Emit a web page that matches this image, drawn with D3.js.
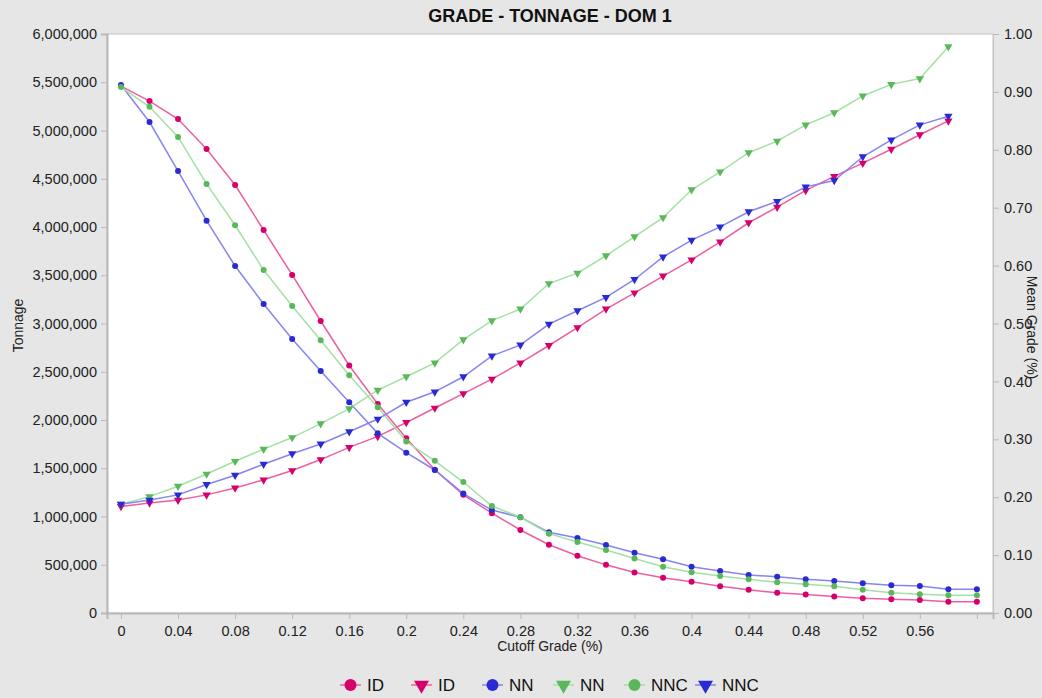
<!DOCTYPE html>
<html>
<head>
<meta charset="utf-8">
<script src="https://cdn.jsdelivr.net/npm/d3@7"></script>
<style>
  html, body { margin: 0; padding: 0; background: #e6e6e6; }
  svg { display: block; }
  text { font-family: Arial, "Liberation Sans", sans-serif; }
</style>
</head>
<body>
<svg id="chart" width="1042" height="698"></svg>
<script>
// ---- Data ----
const cutoffTonnage = [0,0.02,0.04,0.06,0.08,0.10,0.12,0.14,0.16,0.18,0.20,0.22,0.24,0.26,0.28,0.30,0.32,0.34,0.36,0.38,0.40,0.42,0.44,0.46,0.48,0.50,0.52,0.54,0.56,0.58,0.60];
const cutoffGrade = [0,0.02,0.04,0.06,0.08,0.10,0.12,0.14,0.16,0.18,0.20,0.22,0.24,0.26,0.28,0.30,0.32,0.34,0.36,0.38,0.40,0.42,0.44,0.46,0.48,0.50,0.52,0.54,0.56,0.58];

const tonnageID  = [5460000,5305000,5119000,4808000,4435000,3969000,3503000,3026000,2565000,2166000,1811000,1485000,1225000,1034000,860000,707000,593000,499000,420000,365000,323000,278000,240000,209000,191000,170000,153000,143000,135000,117000,117000];
const tonnageNN  = [5471000,5088000,4580000,4065000,3596000,3202000,2839000,2509000,2183000,1862000,1661000,1482000,1238000,1067000,992000,836000,777000,705000,624000,556000,480000,435000,394000,376000,349000,332000,308000,287000,280000,246000,246000];
const tonnageNNC = [5450000,5246000,4933000,4446000,4018000,3554000,3181000,2826000,2463000,2132000,1777000,1577000,1357000,1109000,992000,822000,736000,652000,565000,480000,422000,383000,349000,318000,297000,277000,241000,210000,194000,183000,183000];

const gradeID  = [0.184,0.190,0.195,0.204,0.216,0.230,0.246,0.265,0.286,0.305,0.329,0.354,0.379,0.404,0.432,0.462,0.493,0.525,0.553,0.582,0.610,0.641,0.674,0.701,0.730,0.754,0.777,0.801,0.826,0.850];
const gradeNN  = [0.188,0.201,0.219,0.240,0.262,0.283,0.303,0.327,0.353,0.385,0.408,0.432,0.472,0.505,0.525,0.569,0.587,0.617,0.650,0.683,0.731,0.762,0.795,0.815,0.843,0.864,0.893,0.913,0.923,0.978];
const gradeNNC = [0.188,0.195,0.204,0.222,0.238,0.257,0.275,0.292,0.313,0.335,0.364,0.382,0.408,0.444,0.463,0.499,0.522,0.545,0.576,0.615,0.644,0.667,0.693,0.711,0.736,0.747,0.788,0.817,0.843,0.858];

const xTicks = [0,0.04,0.08,0.12,0.16,0.20,0.24,0.28,0.32,0.36,0.40,0.44,0.48,0.52,0.56,0.60];
const xTickLabels = ["0","0.04","0.08","0.12","0.16","0.2","0.24","0.28","0.32","0.36","0.4","0.44","0.48","0.52","0.56",""];
const yLeftTicks = [0,500000,1000000,1500000,2000000,2500000,3000000,3500000,4000000,4500000,5000000,5500000,6000000];
const yRightTicks = [0,0.1,0.2,0.3,0.4,0.5,0.6,0.7,0.8,0.9,1.0];

const title = "GRADE - TONNAGE - DOM 1";
const xTitle = "Cutoff Grade (%)";
const yLeftTitle = "Tonnage";
const yRightTitle = "Mean Grade (%)";

const colors = {
  pink:  {marker: "#d5006c", line: "#ee5fa0"},
  blue:  {marker: "#2a2ad2", line: "#8585f2"},
  green: {marker: "#5ab85a", line: "#a2e2a2"}
};

const series = [
  {name: "ID",  xs: cutoffTonnage, ys: tonnageID,  axis: "left",  shape: "circle",   color: colors.pink},
  {name: "ID",  xs: cutoffGrade,   ys: gradeID,    axis: "right", shape: "triangle", color: colors.pink},
  {name: "NN",  xs: cutoffTonnage, ys: tonnageNN,  axis: "left",  shape: "circle",   color: colors.blue},
  {name: "NN",  xs: cutoffGrade,   ys: gradeNN,    axis: "right", shape: "triangle", color: colors.green},
  {name: "NNC", xs: cutoffTonnage, ys: tonnageNNC, axis: "left",  shape: "circle",   color: colors.green},
  {name: "NNC", xs: cutoffGrade,   ys: gradeNNC,   axis: "right", shape: "triangle", color: colors.blue}
];

// ---- Layout ----
const plot = {left: 107, right: 993, top: 34, bottom: 613};
const svg = d3.select("#chart");

const x = d3.scaleLinear().domain([-0.0098, 0.6113]).range([plot.left, plot.right]);
const yL = d3.scaleLinear().domain([0, 6000000]).range([plot.bottom, plot.top]);
const yR = d3.scaleLinear().domain([0, 1]).range([plot.bottom, plot.top]);

svg.append("rect").attr("x", 0).attr("y", 0).attr("width", 1042).attr("height", 698).attr("fill", "#e6e6e6");
svg.append("rect")
  .attr("x", plot.left).attr("y", plot.top)
  .attr("width", plot.right - plot.left).attr("height", plot.bottom - plot.top)
  .attr("fill", "#ffffff").attr("stroke", "#c4c4c4").attr("stroke-width", 1);

// Title
svg.append("text").attr("x", (plot.left + plot.right) / 2).attr("y", 22)
  .attr("text-anchor", "middle")
  .style("font-family", "'Liberation Sans Narrow', 'Arial Narrow', Arial, sans-serif")
  .style("font-weight", "bold").style("font-size", "18px").attr("fill", "#111")
  .text(title);

// Axes
const fmt = d3.format(",");
const leftAxis = d3.axisLeft(yL).tickValues(yLeftTicks).tickFormat(fmt).tickSize(6).tickPadding(4);
const rightAxis = d3.axisRight(yR).tickValues(yRightTicks).tickFormat(d3.format(".2f")).tickSize(6).tickPadding(5);
const bottomAxis = d3.axisBottom(x).tickValues(xTicks).tickFormat((d, i) => xTickLabels[i]).tickSize(6).tickPadding(5);

function styleAxis(g) {
  g.select(".domain").attr("stroke", "#b8b8b8").attr("stroke-width", 2);
  g.selectAll(".tick line").attr("stroke", "#b8b8b8");
  g.selectAll(".tick text").attr("fill", "#222").style("font-size", "14.5px")
    .style("font-family", "Arial, 'Liberation Sans', sans-serif");
}

svg.append("g").attr("transform", `translate(${plot.left},0)`).call(leftAxis).call(styleAxis);
svg.append("g").attr("transform", `translate(${plot.right},0)`).call(rightAxis).call(styleAxis)
  .call(g => g.select(".domain").attr("stroke-width", 1).attr("stroke", "#c4c4c4"));
const bx = svg.append("g").attr("transform", `translate(0,${plot.bottom})`).call(bottomAxis).call(styleAxis);
bx.selectAll(".tick text").attr("dy", "0.85em");

// Axis titles
svg.append("text").attr("transform", `translate(23,${(plot.top + plot.bottom) / 2 + 2}) rotate(-90)`)
  .attr("text-anchor", "middle").style("font-size", "14px").attr("fill", "#222").text(yLeftTitle);
svg.append("text").attr("transform", `translate(1027,${(plot.top + plot.bottom) / 2 + 4}) rotate(90)`)
  .attr("text-anchor", "middle").style("font-size", "14px").attr("fill", "#222").text(yRightTitle);
svg.append("text").attr("x", (plot.left + plot.right) / 2).attr("y", 651)
  .attr("text-anchor", "middle").style("font-size", "14px").attr("fill", "#222").text(xTitle);

// Series
const triPath = d3.symbol().type(d3.symbolTriangle).size(30)();
function drawMarker(g, shape, color, cx, cy, scale) {
  if (shape === "circle") {
    g.append("circle").attr("cx", cx).attr("cy", cy).attr("r", 3 * scale).attr("fill", color);
  } else {
    g.append("path").attr("d", triPath)
      .attr("transform", `translate(${cx},${cy}) scale(${scale},${-scale})`)
      .attr("fill", color);
  }
}

const plotG = svg.append("g");
series.forEach(s => {
  const yS = s.axis === "left" ? yL : yR;
  const pts = s.xs.map((xv, i) => [x(xv), yS(s.ys[i])]);
  plotG.append("path").attr("d", d3.line()(pts))
    .attr("fill", "none").attr("stroke", s.color.line).attr("stroke-width", 1.5);
  pts.forEach(p => drawMarker(plotG, s.shape, s.color.marker, p[0], p[1], 1));
});

// Legend
const legendX = [340, 411, 482, 553, 624, 695];
const legendY = 685;
const lg = svg.append("g");
series.forEach((s, i) => {
  const lx = legendX[i];
  lg.append("line").attr("x1", lx).attr("x2", lx + 21).attr("y1", legendY).attr("y2", legendY)
    .attr("stroke", s.color.line).attr("stroke-width", 1.5);
  drawMarker(lg, s.shape, s.color.marker, lx + 10.5, legendY, s.shape === "circle" ? 2 : 1.8);
  lg.append("text").attr("x", lx + 27).attr("y", legendY).attr("dy", "0.36em")
    .style("font-size", "17px").attr("fill", "#111").text(s.name);
});
</script>
</body>
</html>
